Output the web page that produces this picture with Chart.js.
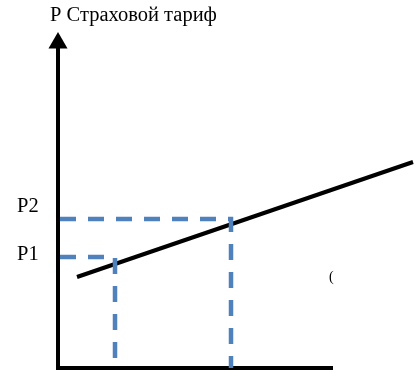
<!DOCTYPE html>
<html>
<head>
<meta charset="utf-8">
<script src="https://cdn.jsdelivr.net/npm/chart.js@4/dist/chart.umd.min.js"></script>
<style>
    html, body { margin: 0; padding: 0; background: #fff; }
    canvas { display: block; }
</style>
</head>
<body>
<canvas id="chart" width="415" height="373"></canvas>
<script>
// values in chart units, origin where the two axes meet
var axisTitle = 'P Страховой тариф';
var priceLabels = ['P1', 'P2'];
var prices = [111, 149];
var quantities = [57, 173];
var supplyX = [19, 355];
var supplyY = [91, 206];
var axisLength = { x: 275, y: 325 };

function toPoints(xs, ys) {
    return xs.map((x, i) => ({ x: x, y: ys[i] }));
}

// dashed guide: from the price axis across to the line, then down
function guide(i) {
    return [
        { x: 2, y: prices[i] },
        { x: quantities[i], y: prices[i] },
        { x: quantities[i], y: 0 }
    ];
}

var textPlugin = {
    id: 'texts',
    afterDatasetsDraw(chart) {
        var ctx = chart.ctx;
        var sx = chart.scales.x;
        var sy = chart.scales.y;
        ctx.save();
        ctx.fillStyle = '#000';
        ctx.font = '20.5px "Liberation Serif", "Times New Roman", serif';
        ctx.textBaseline = 'alphabetic';
        ctx.textAlign = 'left';
        ctx.fillText(axisTitle, sx.getPixelForValue(0) - 8, sy.getPixelForValue(axisLength.y) - 22);

        var offsets = [3, -7];
        priceLabels.forEach((label, i) => {
            ctx.fillText(label, 17, sy.getPixelForValue(prices[i]) + offsets[i]);
        });

        ctx.font = '14px "Liberation Serif", serif';
        ctx.fillText('(', sx.getPixelForValue(271), sy.getPixelForValue(87));
        ctx.restore();
    }
};

var blue = '#4f81bd';

new Chart(document.getElementById('chart'), {
    type: 'scatter',
    data: {
        datasets: [
            {
                data: guide(1),
                showLine: true,
                borderColor: blue,
                borderWidth: 4.5,
                borderDash: [16, 12],
                pointRadius: 0
            },
            {
                data: guide(0),
                showLine: true,
                borderColor: blue,
                borderWidth: 4.5,
                borderDash: [16, 12],
                pointRadius: 0
            },
            {
                data: toPoints(supplyX, supplyY),
                showLine: true,
                borderColor: '#000',
                borderWidth: 4,
                pointRadius: 0
            },
            {
                // price axis
                data: [{ x: 0, y: -2 }, { x: 0, y: axisLength.y - 5 }],
                showLine: true,
                borderColor: '#000',
                borderWidth: 4,
                pointRadius: 0
            },
            {
                // quantity axis
                data: [{ x: -2, y: 0 }, { x: axisLength.x, y: 0 }],
                showLine: true,
                borderColor: '#000',
                borderWidth: 4,
                pointRadius: 0
            },
            {
                // arrow head
                data: [{ x: 0, y: axisLength.y }],
                pointStyle: 'triangle',
                pointRadius: 11,
                backgroundColor: '#000',
                borderWidth: 0
            }
        ]
    },
    options: {
        responsive: false,
        animation: false,
        events: [],
        layout: { padding: 0, autoPadding: false },
        plugins: {
            legend: { display: false },
            tooltip: { enabled: false }
        },
        scales: {
            x: { type: 'linear', display: false, min: -58, max: 357 },
            y: { type: 'linear', display: false, min: -5, max: 368 }
        }
    },
    plugins: [textPlugin]
});
</script>
</body>
</html>
